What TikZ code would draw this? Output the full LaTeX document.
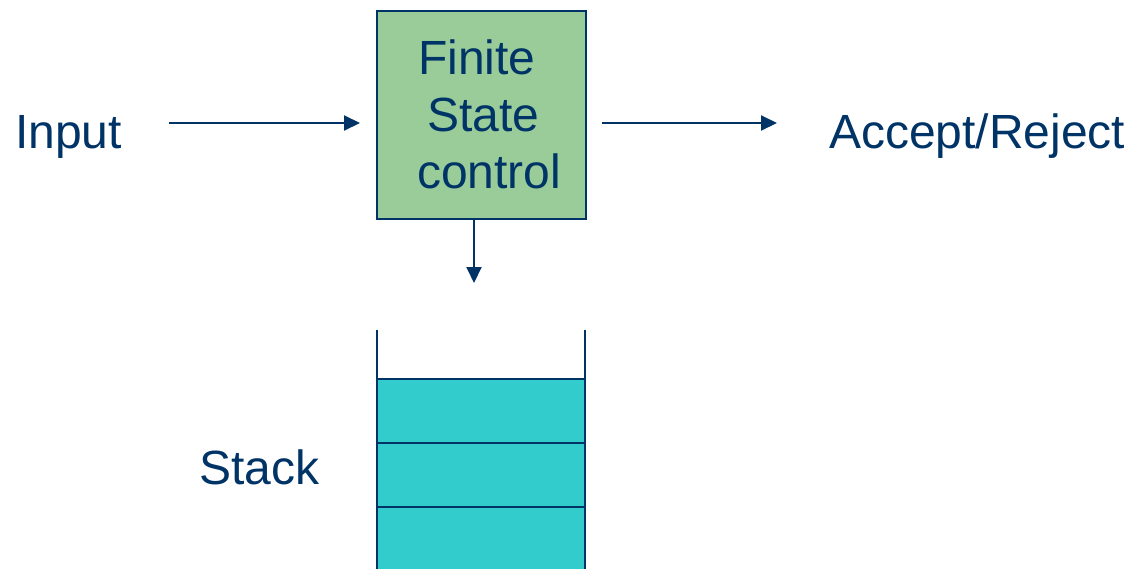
\documentclass[tikz,border=0pt]{standalone}
\usepackage{fontspec}
\setmainfont{Liberation Sans}
\usetikzlibrary{arrows.meta}
\definecolor{navy}{HTML}{003366}
\definecolor{ctrlgreen}{HTML}{99CC99}
\definecolor{stackcyan}{HTML}{33CCCC}
\tikzset{
  lbl/.style={inner sep=0pt, anchor=base west, text=navy,
    font=\fontsize{48}{56}\selectfont},
  flow/.style={draw=navy, line width=2pt,
    -{Triangle[length=16pt,width=15pt]}},
  ctrlbox/.style={draw=navy, line width=2pt, fill=ctrlgreen, inner sep=0pt},
  cell/.style={draw=navy, line width=2pt, fill=stackcyan},
  wall/.style={draw=navy, line width=1.6pt}
}
\begin{document}
\begin{tikzpicture}[x=1pt,y=-1pt]
\useasboundingbox (0,0) rectangle (1132,568);

% finite state control box
\node[ctrlbox, minimum width=209pt, minimum height=208pt] (fsc) at (481.5,115) {};
\node[lbl] (l1) at (418,74) {Finite};
\node[lbl] (l2) at (427,131) {State};
\node[lbl] (l3) at (417,188) {control};

% outside labels
\node[lbl] (input) at (15,148) {Input};
\node[lbl] (accept) at (829,148) {Accept/Reject};
\node[lbl] (stack) at (199,484) {Stack};

% stack cells
\path[cell] (377,379) rectangle (585,443);
\path[cell] (377,443) rectangle (585,507);
\path[cell] (377,507) rectangle (585,572);
\draw[wall] (377,330) -- (377,568);
\draw[wall] (585,330) -- (585,568);
\coordinate (stacktop) at (474,283);

% connectors
\coordinate (inA) at (169,123);
\coordinate (outB) at (777,123);
\draw[flow] (inA) -- ([xshift=-16pt]fsc.west |- inA);
\draw[flow] ([xshift=15pt]fsc.east |- outB) -- (outB);
\draw[flow] (fsc.south -| stacktop) -- (stacktop);
\end{tikzpicture}
\end{document}
